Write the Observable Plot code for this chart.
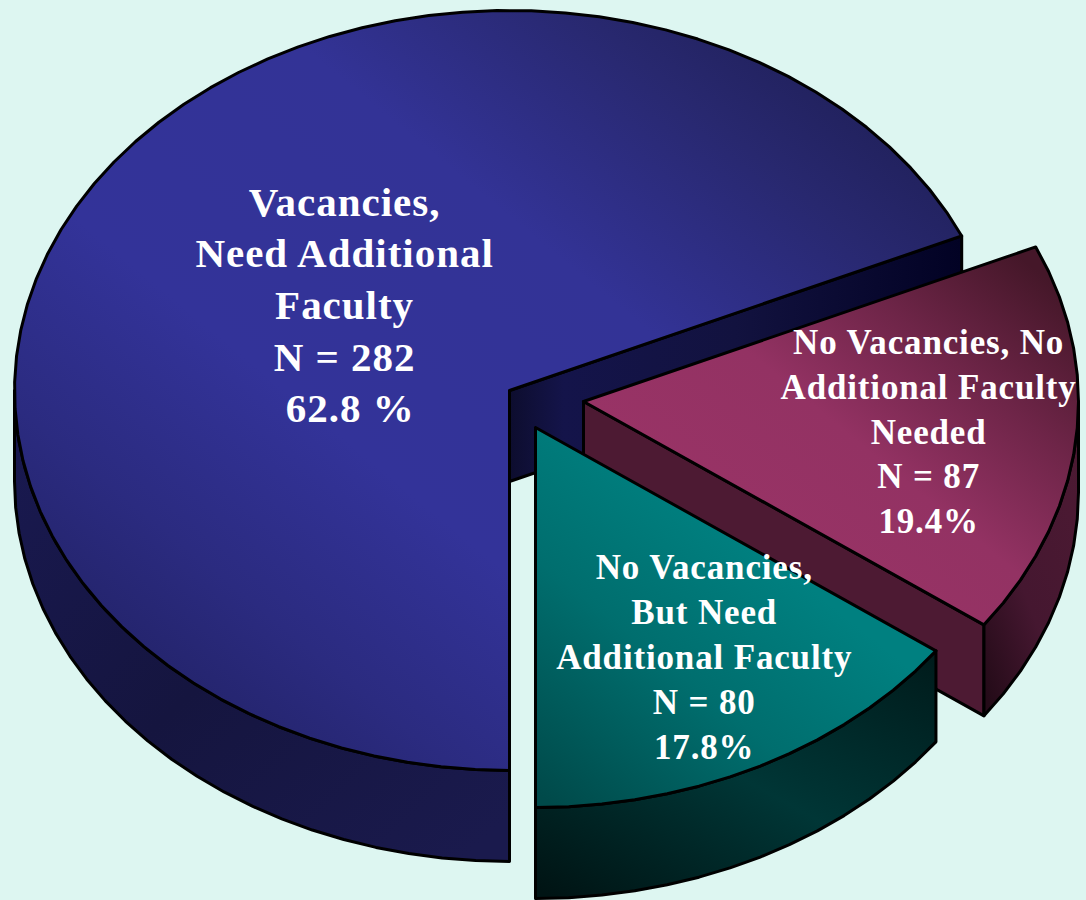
<!DOCTYPE html>
<html>
<head>
<meta charset="utf-8">
<script src="https://cdn.jsdelivr.net/npm/d3@7"></script>
<script src="https://cdn.jsdelivr.net/npm/@observablehq/plot@0.6"></script>
<style>
html,body{margin:0;padding:0;background:#ddf6f1;}
svg{display:block;background:transparent;}
svg text{letter-spacing:0.024em;}
</style>
</head>
<body>
<div id="chart"></div>
<script>
// Data
const categories = ["Vacancies,\nNeed Additional\nFaculty", "No Vacancies, No\nAdditional Faculty\nNeeded", "No Vacancies,\nBut Need\nAdditional Faculty"];
const counts = [282, 87, 80];
const percents = ["\u00a062.8 %", "19.4%", "17.8%"];
// Sweep of each slice as drawn on the tilted ellipse, in degrees clockwise
const drawnSweeps = [246, 60, 54];
const firstSliceStart = 180;

// Layout
const W = 1086, H = 900;
const rx = 495, ry = 380, depth = 91;
const centre = [509, 390];
const explode = [[0, 0], [74, 11], [26, 37]];
const labelPolar = [[304.8, 0.4057], [96, 0.701], [150.3, 0.688]];
const labelFont = [41, 35, 35];
const labelLeading = [51.6, 44.8, 44.8];
const topFill = ["url(#blueTop)", "url(#pinkTop)", "url(#tealTop)"];
const rad = d => d * Math.PI / 180;

let start = firstSliceStart;
const slices = categories.map((name, i) => {
  const s = {i, name, a0: start, a1: start + drawnSweeps[i], cx: centre[0] + explode[i][0], cy: centre[1] + explode[i][1]};
  start += drawnSweeps[i];
  return s;
});

const pt = (s, a, drop = 0) => ({x: s.cx + rx * Math.sin(rad(a)), y: s.cy - ry * Math.cos(rad(a)) + drop});
const arc = (s, a0, a1, drop = 0) => {
  const n = Math.max(2, Math.ceil(Math.abs(a1 - a0) / 4));
  return d3.range(n + 1).map(k => pt(s, a0 + (a1 - a0) * k / n, drop));
};
const apex = (s, drop = 0) => ({x: s.cx, y: s.cy + drop});
const topFace = s => [apex(s), ...arc(s, s.a0, s.a1), apex(s)];
const wall = (s, a0, a1) => { const p = [...arc(s, a0, a1), ...arc(s, a1, a0, depth)]; return [...p, p[0]]; };
const cutFace = (s, a) => [apex(s), pt(s, a), pt(s, a, depth), apex(s, depth), apex(s)];

const [blue, pink, teal] = slices;
const face = (points, fill) => Plot.line(points, {x: "x", y: "y", fill, stroke: "#000", strokeWidth: 3, strokeLinejoin: "round", curve: "linear"});

function defs() {
  const d = d3.create("svg:defs");
  const grad = (id, [x1, y1, x2, y2], stops) => {
    const g = d.append("linearGradient").attr("id", id).attr("x1", x1).attr("y1", y1).attr("x2", x2).attr("y2", y2);
    stops.forEach(([o, c]) => g.append("stop").attr("offset", o).attr("stop-color", c));
  };
  grad("blueTop", [0.08, 0.95, 0.95, 0.1], [[0, "#1f1f5e"], [0.2, "#2b2b80"], [0.38, "#333399"], [0.65, "#333396"], [0.85, "#28286f"], [1, "#1e1e55"]]);
  grad("blueCut", [0, 0, 1, 0], [[0, "#0d0d2e"], [0.12, "#14144a"], [0.5, "#12123f"], [1, "#020224"]]);
  grad("blueWall", [0, 0.1, 0.9, 1], [[0, "#191950"], [0.5, "#15153f"], [1, "#1a1a4d"]]);
  grad("pinkTop", [0.25, 0.75, 0.95, 0.1], [[0, "#993366"], [0.4, "#933263"], [0.7, "#6e2548"], [1, "#451729"]]);
  grad("pinkCut", [0, 0, 1, 0], [[0, "#4d1a33"], [1, "#4d1a33"]]);
  grad("pinkWall", [0.9, 0, 0.1, 1], [[0, "#4d1a33"], [0.6, "#451730"], [1, "#240b18"]]);
  grad("tealTop", [0.05, 1, 0.6, 0.35], [[0, "#004a4a"], [0.55, "#006e6e"], [1, "#008080"]]);
  grad("tealWall", [0.95, 0, 0.05, 1], [[0, "#001c1c"], [0.5, "#003636"], [1, "#001414"]]);
  return d.node();
}

const labels = slices.map((s, i) => {
  const [a, r] = labelPolar[i];
  return {
    x: s.cx + r * rx * Math.sin(rad(a)),
    y: s.cy - r * ry * Math.cos(rad(a)),
    text: `${categories[i]}\nN = ${counts[i]}\n${percents[i]}`
  };
});
const label = i => Plot.text([labels[i]], {
  x: "x", y: "y", text: "text", fill: "#fff",
  fontFamily: "Liberation Serif", fontWeight: 700, fontSize: labelFont[i],
  lineHeight: labelLeading[i] / labelFont[i], lineAnchor: "middle", textAnchor: "middle"
});

const chart = Plot.plot({
  width: W, height: H,
  margin: 0,
  x: {domain: [0, W], range: [0, W], axis: null},
  y: {domain: [0, H], range: [0, H], axis: null},
  style: {background: "transparent"},
  marks: [
    defs,
    face(wall(blue, 180, 270), "url(#blueWall)"),
    face(cutFace(blue, blue.a1), "url(#blueCut)"),
    face(topFace(blue), topFill[0]),
    face(cutFace(pink, pink.a1), "url(#pinkCut)"),
    face(wall(pink, 450, pink.a1), "url(#pinkWall)"),
    face(topFace(pink), topFill[1]),
    face(wall(teal, teal.a0, teal.a1), "url(#tealWall)"),
    face(topFace(teal), topFill[2]),
    label(0), label(1), label(2)
  ]
});
document.getElementById("chart").append(chart);
</script>
</body>
</html>
